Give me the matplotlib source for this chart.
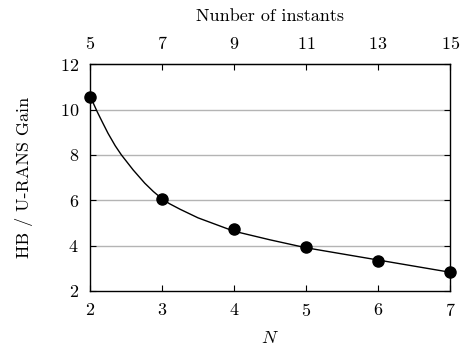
import matplotlib
matplotlib.use("Agg")
import matplotlib.pyplot as plt

# measured gains
n_vals = [2, 3, 4, 5, 6, 7]
gain = [10.55, 6.05, 4.72, 3.92, 3.32, 2.82]

# fitted curve
curve_n = [2, 2.05, 2.1, 2.175, 2.25, 2.35, 2.435, 2.6, 2.76, 2.88, 3, 3.1,
           3.25, 3.5, 4, 4.5, 5, 5.5, 6, 6.5, 7]
curve_g = [10.62, 10.25, 9.9, 9.42, 8.95, 8.4, 8.0, 7.33, 6.75, 6.38, 6.06, 5.85,
           5.6, 5.22, 4.63, 4.25, 3.9, 3.63, 3.36, 3.09, 2.82]

top_ticks = [5, 7, 9, 11, 13, 15]

plt.rcParams['font.family'] = ['cmr10', 'DejaVu Serif']
plt.rcParams['mathtext.fontset'] = 'cm'
plt.rcParams['axes.formatter.use_mathtext'] = True
plt.rcParams['font.size'] = 13

fig = plt.figure(figsize=(4.64, 3.45), dpi=100)
ax = fig.add_axes([0.194, 0.157, 0.776, 0.657])

for y in [4, 6, 8, 10]:
    ax.axhline(y, color='#b4b4b4', lw=1.0, zorder=1)

ax.plot(curve_n, curve_g, color='black', lw=1.0, zorder=2)
ax.plot(n_vals, gain, 'o', color='black', ms=8, zorder=3, clip_on=False)

ax.set_xlim(2, 7)
ax.set_ylim(2, 12)
ax.set_yticks([2, 4, 6, 8, 10, 12])
ax.set_xticks(n_vals)
ax.tick_params(direction='in', length=4, width=0.8, right=True)
ax.tick_params(axis='x', pad=8)
ax.tick_params(axis='y', pad=8)
for s in ax.spines.values():
    s.set_linewidth(1.0)

ax.set_xlabel('$N$', labelpad=8)
ax.set_ylabel('HB / U-RANS Gain', labelpad=19)

sec = ax.secondary_xaxis('top', functions=(lambda n: 2 * n + 1, lambda m: (m - 1) / 2))
sec.set_xticks(top_ticks)
sec.tick_params(direction='in', length=4, width=0.8, pad=9)
sec.set_xlabel('Nunber of instants', labelpad=10)

fig.savefig('out.png', dpi=100)
